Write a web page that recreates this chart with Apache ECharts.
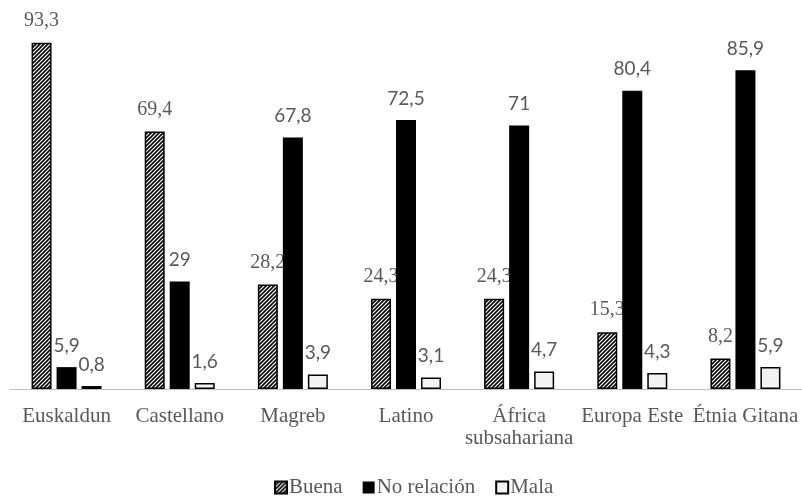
<!DOCTYPE html>
<html>
<head>
<meta charset="utf-8">
<script src="https://cdn.jsdelivr.net/npm/echarts@6/dist/echarts.min.js"></script>
<style>
  html, body { margin: 0; padding: 0; background: #fff; }
  #chart { width: 802px; height: 497px; }
</style>
</head>
<body>
<div id="chart"></div>
<script>
// Relación con cada grupo de origen (%)
const categories = ['Euskaldun', 'Castellano', 'Magreb', 'Latino', 'África\nsubsahariana', 'Europa Este', 'Étnia Gitana'];
const buena = [93.3, 69.4, 28.2, 24.3, 24.3, 15.3, 8.2];
const noRelacion = [5.9, 29, 67.8, 72.5, 71, 80.4, 85.9];
const mala = [0.8, 1.6, 3.9, 3.1, 4.7, 4.3, 5.9];
const seriesNames = ['Buena', 'No relación', 'Mala'];

// Diagonal hatch fill used for the "Buena" bars
function hatchPattern() {
  const c = document.createElement('canvas');
  c.width = 4; c.height = 4;
  const g = c.getContext('2d');
  g.fillStyle = '#ffffff';
  g.fillRect(0, 0, 4, 4);
  g.strokeStyle = '#000000';
  g.lineWidth = 1.6;
  g.beginPath();
  g.moveTo(0, 4); g.lineTo(4, 0);
  g.moveTo(-1, 1); g.lineTo(1, -1);
  g.moveTo(3, 5); g.lineTo(5, 3);
  g.stroke();
  return c;
}

const fmt = p => String(p.value).replace('.', ',');
const serifLabel = { show: true, position: 'top', distance: 12, color: '#595959',
  fontFamily: 'Liberation Serif', fontSize: 20, formatter: fmt };
const sansLabel = { show: true, position: 'top', distance: 12, color: '#595959',
  fontFamily: 'Lato', fontSize: 19, formatter: fmt };

const chart = echarts.init(document.getElementById('chart'), null, { renderer: 'canvas' });
chart.setOption({
  animation: false,
  backgroundColor: '#ffffff',
  grid: { left: 10, right: -11, top: 18, bottom: 108, containLabel: false },
  legend: {
    data: seriesNames,
    left: 274,
    top: 477,
    padding: 0,
    itemGap: 20,
    itemWidth: 12,
    itemHeight: 12,
    icon: 'rect',
    textStyle: { fontFamily: 'Liberation Serif', fontSize: 21, color: '#595959', padding: [0, 0, 0, -3] }
  },
  xAxis: {
    type: 'category',
    data: categories,
    axisLine: { lineStyle: { color: '#bfbfbf', width: 1 } },
    axisTick: { show: false },
    axisLabel: { interval: 0, margin: 16, color: '#595959', fontFamily: 'Liberation Serif',
      fontSize: 21, lineHeight: 22 }
  },
  yAxis: { type: 'value', min: 0, max: 100, show: false, splitLine: { show: false } },
  series: [
    { name: seriesNames[0], type: 'bar', data: buena, barWidth: 20, barGap: '25%', z: 2,
      itemStyle: { color: { image: hatchPattern(), repeat: 'repeat' }, borderColor: '#000', borderWidth: 1.5 },
      label: serifLabel },
    { name: seriesNames[1], type: 'bar', data: noRelacion, barWidth: 20, barGap: '25%', z: 4,
      itemStyle: { color: '#000000' },
      label: sansLabel },
    { name: seriesNames[2], type: 'bar', data: mala, barWidth: 20, barGap: '25%', z: 3,
      itemStyle: { color: '#f2f2f2', borderColor: '#000', borderWidth: 1.5 },
      label: sansLabel }
  ]
});
</script>
</body>
</html>
